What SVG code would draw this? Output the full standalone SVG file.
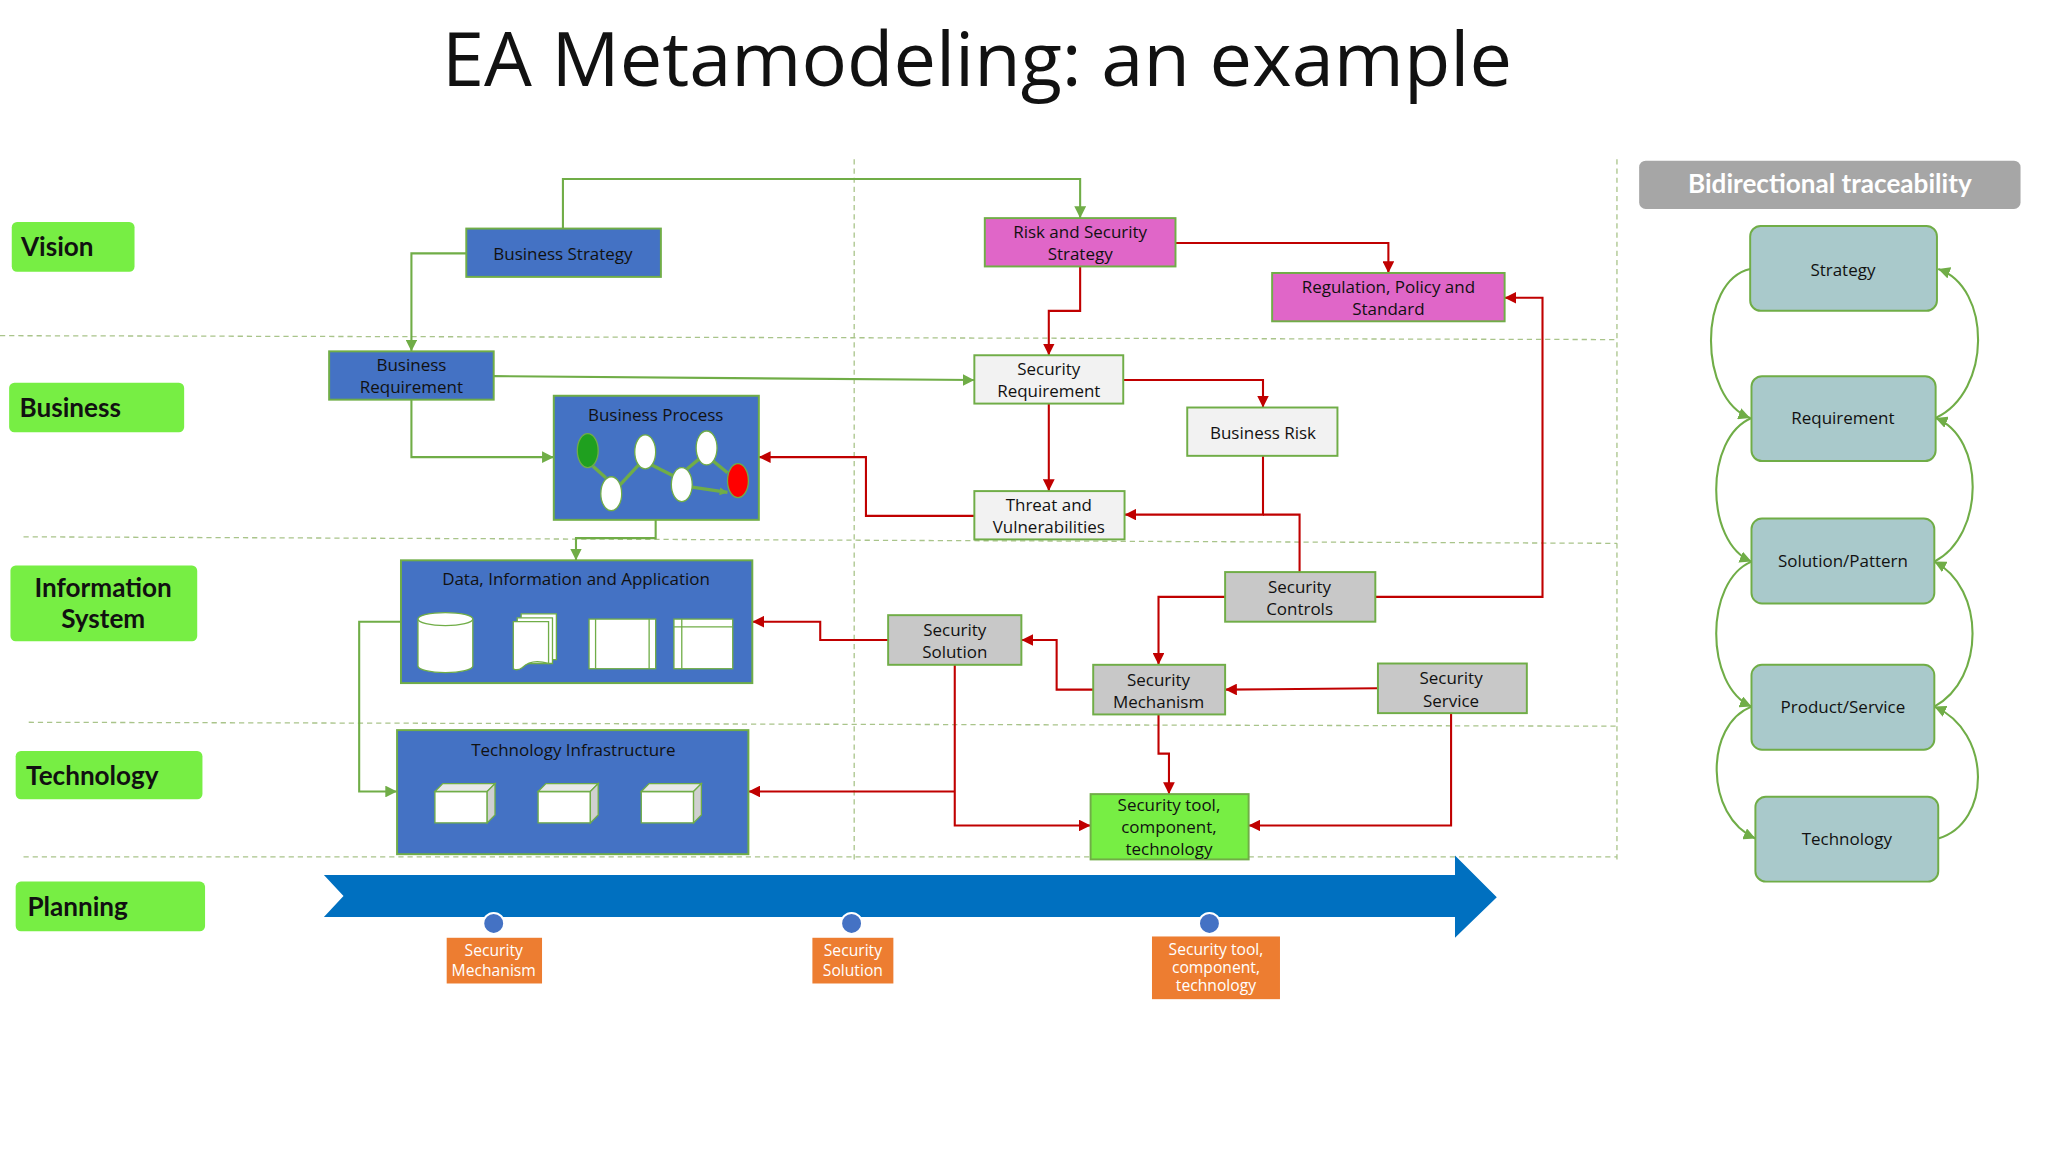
<svg xmlns="http://www.w3.org/2000/svg" width="2048" height="1152" viewBox="0 0 2048 1152">
<style>
text{font-family:"Open Sans","Liberation Sans",sans-serif;fill:#111}
.lane rect{fill:#77EE44}
.lane text{font-family:"Lato","Liberation Sans",sans-serif;font-weight:bold;font-size:20px}
.b{fill:#4472C4;stroke:#70AD47;stroke-width:1.5}
.m{fill:#E066C8;stroke:#70AD47;stroke-width:1.5}
.w{fill:#F2F2F2;stroke:#70AD47;stroke-width:1.5}
.g{fill:#C8C8C8;stroke:#70AD47;stroke-width:1.5}
.lg{fill:#77EE44;stroke:#70AD47;stroke-width:1.5}
.t{font-size:13px;text-anchor:middle}
.gl{fill:none;stroke:#70AD47;stroke-width:1.6;marker-end:url(#ga)}
.rl{fill:none;stroke:#C00000;stroke-width:1.6;marker-end:url(#ra)}
.rn{fill:none;stroke:#C00000;stroke-width:1.6}
.dash{stroke:#A9C48A;stroke-width:1;stroke-dasharray:4 3;fill:none}
.tr{fill:#A9C9CB;stroke:#70AD47;stroke-width:1.5}
.o{fill:#ED7D31}
.ot{font-size:12px;fill:#fff;text-anchor:middle}
</style>
<defs>
<marker id="ga" viewBox="0 0 10 10" refX="10" refY="5" markerWidth="9" markerHeight="9" markerUnits="userSpaceOnUse" orient="auto"><path d="M0,0L10,5L0,10z" fill="#70AD47"/></marker>
<marker id="ra" viewBox="0 0 10 10" refX="10" refY="5" markerWidth="9" markerHeight="9" markerUnits="userSpaceOnUse" orient="auto"><path d="M0,0L10,5L0,10z" fill="#C00000"/></marker>
<marker id="sa" viewBox="0 0 10 10" refX="10" refY="5" markerWidth="6" markerHeight="6" markerUnits="userSpaceOnUse" orient="auto"><path d="M0,0L10,5L0,10z" fill="#70AD47"/></marker>
</defs>
<rect width="2048" height="1152" fill="#fff"/>
<g transform="scale(1.3061)">
<text x="748" y="66" style="font-size:58px;text-anchor:middle">EA Metamodeling: an example</text>
<g id="grid">
<path class="dash" d="M0,257L1238,260M18,411L1238,416M22,553L1238,556M18,656L1238,656M654,122V660M1238,122V660"/>
</g>
<g id="lane-vision" class="lane"><rect x="9" y="170" width="94" height="38" rx="4"/><text x="16" y="196">Vision</text></g>
<g id="lane-business" class="lane"><rect x="7" y="293" width="134" height="38" rx="4"/><text x="15" y="319">Business</text></g>
<g id="lane-is" class="lane"><rect x="8" y="433" width="143" height="58" rx="4"/><text x="79" y="457" text-anchor="middle">Information</text><text x="79" y="481" text-anchor="middle">System</text></g>
<g id="lane-tech" class="lane"><rect x="12" y="575" width="143" height="37" rx="4"/><text x="20" y="601">Technology</text></g>
<g id="lane-plan" class="lane"><rect x="12" y="675" width="145" height="38" rx="4"/><text x="21" y="701">Planning</text></g>

<g id="connectors">
<path class="gl" d="M431,175V137H827V167"/>
<path class="gl" d="M357,194H315V269"/>
<path class="gl" d="M378,288L746,291"/>
<path class="gl" d="M315,306V350H424"/>
<path class="gl" d="M502,398V412H441V429"/>
<path class="gl" d="M307,476H275V606H304"/>
<path class="rl" d="M900,186H1063V209"/>
<path class="rl" d="M827,204V238H803V272"/>
<path class="rl" d="M860,291H967V312"/>
<path class="rl" d="M803,309V376"/>
<path class="rl" d="M746,395H663V350H581"/>
<path class="rl" d="M967,349V394H861"/>
<path class="rn" d="M995,438V394H967"/>
<path class="rl" d="M1053,457H1181V228H1152"/>
<path class="rl" d="M938,457H887V509"/>
<path class="rl" d="M1055,527L938,528"/>
<path class="rl" d="M837,528H809V490H782"/>
<path class="rl" d="M680,490H628V476H576"/>
<path class="rl" d="M731,509V632H835"/>
<path class="rl" d="M731,606H573"/>
<path class="rl" d="M887,547V577H895V608"/>
<path class="rl" d="M1111,546V632H956"/>
</g>

<g id="business-strategy"><rect class="b" x="357" y="175" width="149" height="37"/><text class="t" x="431" y="199">Business Strategy</text></g>
<g id="business-requirement"><rect class="b" x="252" y="269" width="126" height="37"/><text class="t" x="315" y="284">Business</text><text class="t" x="315" y="301">Requirement</text></g>
<g id="business-process"><rect class="b" x="424" y="303" width="157" height="95"/><text class="t" x="502" y="322">Business Process</text>
<path d="M454,357L464,366M474,372L489,356M499,356L515,364M526,359L537,350M546,353L557,362M530,373L557,377" stroke="#70AD47" stroke-width="2.5" fill="none" marker-end="url(#sa)"/>
<ellipse cx="450" cy="345" rx="8" ry="13" fill="#1FA01F" stroke="#70AD47"/>
<ellipse cx="468" cy="378" rx="8" ry="13" fill="#fff" stroke="#70AD47"/>
<ellipse cx="494" cy="346" rx="8" ry="13" fill="#fff" stroke="#70AD47"/>
<ellipse cx="522" cy="371" rx="8" ry="13" fill="#fff" stroke="#70AD47"/>
<ellipse cx="541" cy="343" rx="8" ry="13" fill="#fff" stroke="#70AD47"/>
<ellipse cx="565" cy="368" rx="8" ry="13" fill="#FF0000" stroke="#70AD47"/>
</g>
<g id="risk-strategy"><rect class="m" x="754" y="167" width="146" height="37"/><text class="t" x="827" y="182">Risk and Security</text><text class="t" x="827" y="199">Strategy</text></g>
<g id="regulation"><rect class="m" x="974" y="209" width="178" height="37"/><text class="t" x="1063" y="224">Regulation, Policy and</text><text class="t" x="1063" y="241">Standard</text></g>
<g id="security-requirement"><rect class="w" x="746" y="272" width="114" height="37"/><text class="t" x="803" y="287">Security</text><text class="t" x="803" y="304">Requirement</text></g>
<g id="business-risk"><rect class="w" x="909" y="312" width="115" height="37"/><text class="t" x="967" y="336">Business Risk</text></g>
<g id="threat"><rect class="w" x="746" y="376" width="115" height="37"/><text class="t" x="803" y="391">Threat and</text><text class="t" x="803" y="408">Vulnerabilities</text></g>
<g id="security-controls"><rect class="g" x="938" y="438" width="115" height="38"/><text class="t" x="995" y="454">Security</text><text class="t" x="995" y="471">Controls</text></g>
<g id="security-solution"><rect class="g" x="680" y="471" width="102" height="38"/><text class="t" x="731" y="487">Security</text><text class="t" x="731" y="504">Solution</text></g>
<g id="security-mechanism"><rect class="g" x="837" y="509" width="101" height="38"/><text class="t" x="887" y="525">Security</text><text class="t" x="887" y="542">Mechanism</text></g>
<g id="security-service"><rect class="g" x="1055" y="508" width="114" height="38"/><text class="t" x="1111" y="524">Security</text><text class="t" x="1111" y="541">Service</text></g>
<g id="security-tool"><rect class="lg" x="835" y="608" width="121" height="50"/><text class="t" x="895" y="621">Security tool,</text><text class="t" x="895" y="638">component,</text><text class="t" x="895" y="655">technology</text></g>
<g id="data-info-app"><rect class="b" x="307" y="429" width="269" height="94"/><text class="t" x="441" y="448">Data, Information and Application</text>
<path d="M320,474V510A21,5 0 0 0 362,510V474" fill="#fff" stroke="#70AD47"/><ellipse cx="341" cy="474" rx="21" ry="5" fill="#fff" stroke="#70AD47"/>
<path d="M399,470H426V505H399z" fill="#fff" stroke="#70AD47"/><path d="M396,473H423V508H396z" fill="#fff" stroke="#70AD47"/><path d="M393,476H420V508Q407,504 400,511Q396,514 393,512z" fill="#fff" stroke="#70AD47"/>
<rect x="451" y="474" width="51" height="38" fill="#fff" stroke="#70AD47"/><line x1="456" y1="474" x2="456" y2="512" stroke="#70AD47"/><line x1="497" y1="474" x2="497" y2="512" stroke="#70AD47"/>
<rect x="516" y="474" width="45" height="38" fill="#fff" stroke="#70AD47"/><line x1="516" y1="480" x2="561" y2="480" stroke="#70AD47"/><line x1="522" y1="474" x2="522" y2="512" stroke="#70AD47"/>
</g>
<g id="tech-infra"><rect class="b" x="304" y="559" width="269" height="95"/><text class="t" x="439" y="579">Technology Infrastructure</text>
<g fill="#fff" stroke="#70AD47">
<path d="M333,606H373V630H333z"/><path d="M333,606L339,600H379L373,606z" fill="#E8E8E8"/><path d="M373,606L379,600V624L373,630z" fill="#D0D0D0"/>
<path d="M412,606H452V630H412z"/><path d="M412,606L418,600H458L452,606z" fill="#E8E8E8"/><path d="M452,606L458,600V624L452,630z" fill="#D0D0D0"/>
<path d="M491,606H531V630H491z"/><path d="M491,606L497,600H537L531,606z" fill="#E8E8E8"/><path d="M531,606L537,600V624L531,630z" fill="#D0D0D0"/>
</g></g>

<g id="planning-arrow">
<path d="M248,670H1114V655L1146,687L1114,718V702H248L263,686z" fill="#0070C0"/>
<circle cx="378" cy="707" r="8" fill="#4472C4" stroke="#fff" stroke-width="1.5"/>
<circle cx="652" cy="707" r="8" fill="#4472C4" stroke="#fff" stroke-width="1.5"/>
<circle cx="926" cy="707" r="8" fill="#4472C4" stroke="#fff" stroke-width="1.5"/>
</g>
<g id="plan-mechanism"><rect class="o" x="342" y="718" width="73" height="35"/><text class="ot" x="378" y="732">Security</text><text class="ot" x="378" y="747">Mechanism</text></g>
<g id="plan-solution"><rect class="o" x="622" y="718" width="62" height="35"/><text class="ot" x="653" y="732">Security</text><text class="ot" x="653" y="747">Solution</text></g>
<g id="plan-tool"><rect class="o" x="882" y="717" width="98" height="48"/><text class="ot" x="931" y="731">Security tool,</text><text class="ot" x="931" y="745">component,</text><text class="ot" x="931" y="759">technology</text></g>

<g id="traceability-header"><rect x="1255" y="123" width="292" height="37" rx="5" fill="#A6A6A6"/><text x="1401" y="148" style="font-size:20px;font-weight:bold;fill:#fff;text-anchor:middle;font-family:Lato,'Liberation Sans',sans-serif">Bidirectional traceability</text></g>
<g id="trace-connectors">
<path class="gl" d="M1340,206C1300,215 1300,305 1340,320"/>
<path class="gl" d="M1341,320C1305,335 1305,415 1341,430"/>
<path class="gl" d="M1341,430C1305,445 1305,525 1341,541"/>
<path class="gl" d="M1341,541C1305,555 1305,625 1344,642"/>
<path class="gl" d="M1482,320C1525,300 1525,220 1484,206"/>
<path class="gl" d="M1481,430C1520,410 1520,335 1482,320"/>
<path class="gl" d="M1481,541C1520,520 1520,450 1481,430"/>
<path class="gl" d="M1484,642C1525,630 1525,560 1481,541"/>
</g>
<g id="tr-strategy"><rect class="tr" x="1340" y="173" width="143" height="65" rx="8"/><text class="t" x="1411" y="211">Strategy</text></g>
<g id="tr-requirement"><rect class="tr" x="1341" y="288" width="141" height="65" rx="8"/><text class="t" x="1411" y="325">Requirement</text></g>
<g id="tr-solution"><rect class="tr" x="1341" y="397" width="140" height="65" rx="8"/><text class="t" x="1411" y="434">Solution/Pattern</text></g>
<g id="tr-product"><rect class="tr" x="1341" y="509" width="140" height="65" rx="8"/><text class="t" x="1411" y="546">Product/Service</text></g>
<g id="tr-technology"><rect class="tr" x="1344" y="610" width="140" height="65" rx="8"/><text class="t" x="1414" y="647">Technology</text></g>
</g>
</svg>
